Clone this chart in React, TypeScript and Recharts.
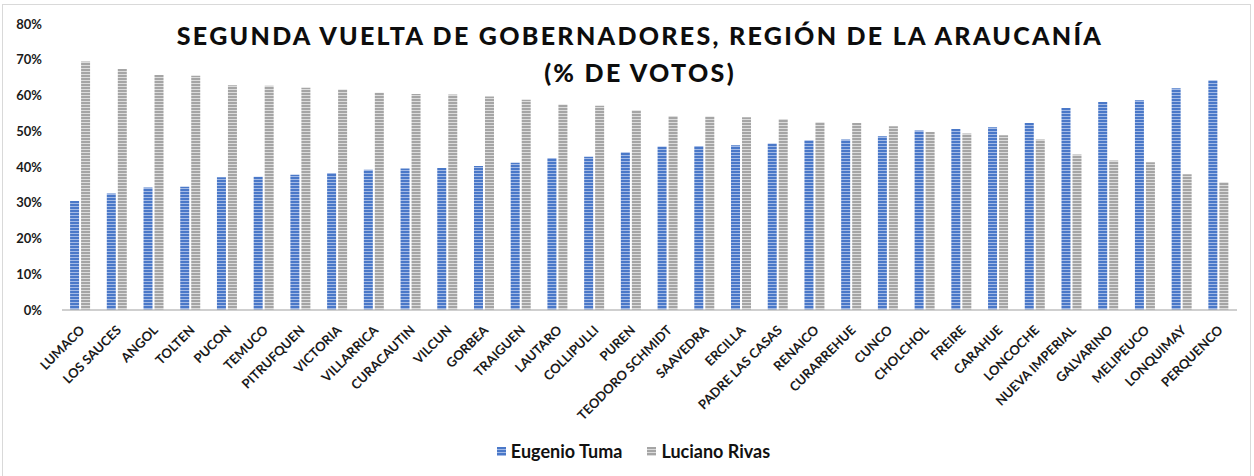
import { BarChart, Bar, XAxis, YAxis, Legend } from 'recharts'

const comunas = [
  'LUMACO', 'LOS SAUCES', 'ANGOL', 'TOLTEN', 'PUCON', 'TEMUCO', 'PITRUFQUEN', 'VICTORIA',
  'VILLARRICA', 'CURACAUTIN', 'VILCUN', 'GORBEA', 'TRAIGUEN', 'LAUTARO', 'COLLIPULLI', 'PUREN',
  'TEODORO SCHMIDT', 'SAAVEDRA', 'ERCILLA', 'PADRE LAS CASAS', 'RENAICO', 'CURARREHUE', 'CUNCO',
  'CHOLCHOL', 'FREIRE', 'CARAHUE', 'LONCOCHE', 'NUEVA IMPERIAL', 'GALVARINO', 'MELIPEUCO',
  'LONQUIMAY', 'PERQUENCO',
]

const tuma = [
  30.5, 32.6, 34.3, 34.5, 37.1, 37.3, 37.8, 38.3, 39.2, 39.6, 39.7, 40.3, 41.2, 42.5, 42.9, 44.1,
  45.7, 45.9, 46.1, 46.6, 47.5, 47.7, 48.6, 50.2, 50.6, 51.1, 52.3, 56.5, 58.2, 58.7, 62.0, 64.3,
]

const rivas = [
  69.5, 67.4, 65.7, 65.5, 62.9, 62.7, 62.2, 61.7, 60.8, 60.4, 60.3, 59.7, 58.8, 57.5, 57.1, 55.9,
  54.3, 54.1, 53.9, 53.4, 52.5, 52.3, 51.4, 49.8, 49.4, 48.9, 47.7, 43.5, 41.8, 41.3, 38.0, 35.7,
]

const yTicks = [0, 10, 20, 30, 40, 50, 60, 70, 80]

const data = comunas.map((c, i) => ({ comuna: c, tuma: tuma[i], rivas: rivas[i] }))

const FONT = 'Lato, "Open Sans", sans-serif'

const CategoryTick = (props: any) => {
  const { x, y, payload } = props
  return (
    <text
      x={x + 5}
      y={y + 13}
      transform={`rotate(-45, ${x + 5}, ${y + 13})`}
      textAnchor="end"
      fontSize={13}
      fontWeight={700}
      fontFamily={FONT}
      fill="#1a1a1a"
    >
      {payload.value}
    </text>
  )
}

const LegendContent = () => (
  <div style={{ display: 'flex', justifyContent: 'center', gap: 25, fontFamily: FONT, fontWeight: 700, fontSize: 18, color: '#111', paddingLeft: 30 }}>
    <span style={{ display: 'flex', alignItems: 'center', gap: 5 }}>
      <svg width={9} height={9}><rect width={9} height={9} fill="url(#stripeBlue)" /></svg>
      Eugenio Tuma
    </span>
    <span style={{ display: 'flex', alignItems: 'center', gap: 5 }}>
      <svg width={9} height={9}><rect width={9} height={9} fill="url(#stripeGray)" /></svg>
      Luciano Rivas
    </span>
  </div>
)

export default function App() {
  return (
    <div style={{ position: 'absolute', left: 0, top: 0, width: 1254, height: 476, background: '#fff', overflow: 'hidden' }}>
      <div style={{ position: 'absolute', left: 2, top: 4, width: 1247, height: 490, border: '1px solid #d9d9d9' }} />
      <div
        style={{
          position: 'absolute', left: 0, top: 17, width: 1280, textAlign: 'center',
          fontFamily: FONT, fontWeight: 900, fontSize: 25, letterSpacing: 2.3, lineHeight: '37px', color: '#0d0d0d',
        }}
      >
        SEGUNDA VUELTA DE GOBERNADORES, REGIÓN DE LA ARAUCANÍA
        <br />
        (% DE VOTOS)
      </div>
      <BarChart
        width={1254}
        height={476}
        data={data}
        margin={{ top: 24, right: 17, left: 0, bottom: 14 }}
        barCategoryGap="22%"
        barGap={2}
      >
        <defs>
          <pattern id="stripeBlue" width={4} height={3} patternUnits="userSpaceOnUse">
            <rect width={4} height={3} fill="#4a78c8" />
            <rect y={2} width={4} height={1} fill="#a3bae6" />
          </pattern>
          <pattern id="stripeGray" width={4} height={3} patternUnits="userSpaceOnUse">
            <rect width={4} height={3} fill="#a5a5a5" />
            <rect y={2} width={4} height={1} fill="#dcdcdc" />
          </pattern>
        </defs>
        <XAxis
          dataKey="comuna"
          interval={0}
          tick={<CategoryTick />}
          tickLine={false}
          axisLine={{ stroke: '#bfbfbf', strokeWidth: 1.5 }}
          height={130}
        />
        <YAxis
          domain={[0, 80]}
          ticks={yTicks}
          tickFormatter={(v) => `${v}%`}
          axisLine={false}
          tickLine={false}
          tickSize={0}
          tickMargin={20}
          width={62}
          tick={{ fontSize: 13, fontWeight: 700, fontFamily: FONT, fill: '#1a1a1a' }}
        />
        <Legend verticalAlign="bottom" content={<LegendContent />} />
        <Bar dataKey="tuma" name="Eugenio Tuma" fill="url(#stripeBlue)" isAnimationActive={false} />
        <Bar dataKey="rivas" name="Luciano Rivas" fill="url(#stripeGray)" isAnimationActive={false} />
      </BarChart>
    </div>
  )
}
